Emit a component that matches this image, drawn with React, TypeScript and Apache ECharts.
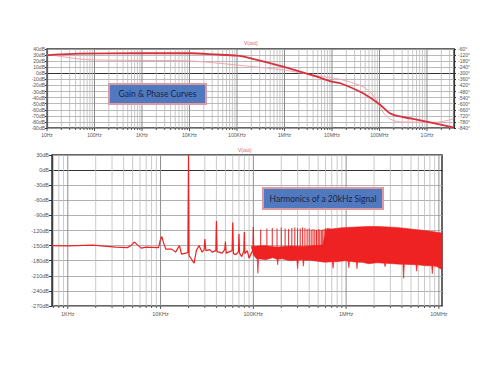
import React, { useEffect, useRef } from "react";
import * as echarts from "echarts";

// ---------- Top chart: gain & phase (Bode) ----------
const bodeTickFreqs = [10, 100, 1e3, 1e4, 1e5, 1e6, 1e7, 1e8, 1e9];
const bodeTickLabels = ["10Hz", "100Hz", "1KHz", "10KHz", "100KHz", "1MHz", "10MHz", "100MHz", "1GHz"];
const bodeFreqRange = [10, 3.7e9];
const gainFreqs = [10, 18.6, 49, 1000, 11000, 35000, 100000, 186000, 930000, 4.8e6, 1e7, 1.5e7, 4.5e7, 1e8, 1.66e8, 2.34e8, 5.1e8, 1.15e9, 3.55e9];
const gainDb = [29.6, 31, 32.5, 33, 33, 31, 29, 25, 11, -5.6, -13.8, -16.4, -32.9, -51, -65.8, -70.2, -75.1, -80.6, -88.8];
const phaseFreqs = [10, 49, 102, 1000, 10200, 1e5, 9.3e5, 4.8e6, 1.48e7, 4.47e7, 7.24e7, 9.3e7, 1.17e8, 1.66e8, 2.7e8, 1.62e9, 3.55e9];
const phaseDeg = [-114, -159, -168, -173, -178, -218, -267, -323, -359, -432, -514, -593, -682, -751, -780, -783, -751];
const gainAxis = { min: -90, max: 40, step: 10 };
const phaseAxis = { min: -840, max: -60, step: 60 };

// ---------- Bottom chart: harmonics spectrum ----------
const specTickFreqs = [1e3, 1e4, 1e5, 1e6, 1e7];
const specTickLabels = ["1KHz", "10KHz", "100KHz", "1MHz", "10MHz"];
const specFreqRange = [676, 1.08e7];
const traceFreqs = [676, 1000, 1850, 3300, 4400, 4800, 5200, 5600, 6200, 7000, 9500, 9900, 10300, 10800, 11400, 13200, 14500, 16000, 16800, 19700, 20000, 20300, 23000, 24300, 26000, 28000, 29500, 30000, 30800, 34000, 36000, 39400, 40000, 40700, 46000, 49200, 50000, 51000, 59000, 60000, 61000, 65000, 69000, 70000, 71000, 75000, 79000, 80000, 81000, 86000, 90000, 95000, 99000, 100000, 101000];
const traceDb = [-150, -150.5, -149, -153, -154, -150, -143, -148, -155, -153, -154, -140, -132, -145, -157, -157, -163, -150, -167, -164, 30, -170, -185, -160, -150, -163, -158, -137, -160, -158, -163, -160, -101, -162, -165, -158, -142, -165, -160, -104, -166, -168, -162, -127, -165, -172, -160, -123, -166, -160, -175, -165, -160, -113, -165];
const harmonicFreqs = [120e3, 140e3, 160e3, 180e3, 200e3, 220e3, 240e3, 260e3, 280e3, 300e3, 320e3, 340e3, 360e3, 380e3, 400e3, 420e3, 440e3, 460e3, 480e3, 500e3, 520e3, 540e3, 560e3, 580e3, 600e3];
const harmonicDb = [-118, -116, -115, -116, -114, -116, -117, -115, -114, -115, -116, -114, -115, -117, -116, -118, -117, -118, -119, -117, -118, -119, -118, -117, -116];
const harmonicBaseDb = -155;
const bandTopFreqs = [95e3, 130e3, 180e3, 250e3, 350e3, 450e3, 560e3, 590e3, 620e3, 700e3, 850e3, 1e6, 1.3e6, 1.7e6, 2.2e6, 2.8e6, 3.5e6, 4.5e6, 5.5e6, 7e6, 8.5e6, 1.08e7];
const bandTopDb = [-152, -150, -153, -151, -152, -150, -149, -130, -116, -117, -115, -114, -113, -112, -112, -113, -114, -116, -118, -120, -122, -125];
const bandLowFreqs = [100e3, 108e3, 110e3, 112e3, 114e3, 136e3, 162e3, 180e3, 183e3, 186e3, 204e3, 246e3, 294e3, 300e3, 306e3, 340e3, 346e3, 352e3, 401e3, 488e3, 594e3, 710e3, 723e3, 736e3, 797e3, 975e3, 1.05e6, 1.07e6, 1.09e6, 1.18e6, 1.29e6, 1.31e6, 1.33e6, 1.48e6, 1.75e6, 2.15e6, 2.58e6, 2.63e6, 2.68e6, 3.16e6, 3.79e6, 4.1e6, 4.17e6, 4.24e6, 5.5e6, 5.66e6, 5.76e6, 5.86e6, 7.28e6, 8.35e6, 8.5e6, 8.65e6, 9.6e6, 1.08e7];
const bandLowDb = [-168, -176, -176, -205, -176, -178, -174, -177, -188, -177, -176, -180, -179, -196, -179, -178, -191, -179, -179, -181, -183, -182, -195, -182, -182, -180, -181, -194, -181, -182, -183, -196, -183, -183, -186, -184, -185, -192, -185, -186, -187, -187, -215, -187, -188, -188, -201, -188, -190, -190, -206, -190, -192, -198];
const specAxis = { min: -270, max: 30, step: 30 };

const FONT = "Liberation Sans";
const lg = (f: number) => Math.log10(f);

function gridLineData(range: number[]) {
  const lo = lg(range[0]);
  const hi = lg(range[1]);
  const out: number[][] = [];
  for (let d = Math.floor(lo); d <= Math.ceil(hi); d++) {
    for (let k = 1; k <= 9; k++) {
      const v = lg(k * Math.pow(10, d));
      if (v >= lo - 1e-9 && v <= hi + 1e-9) out.push([v, k === 1 ? 1 : 0]);
    }
  }
  return out;
}

function gridLineSeries(xi: number, yi: number, range: number[], yMin: number, yMax: number, minorColor: string, majorColor: string) {
  return {
    type: "custom",
    xAxisIndex: xi,
    yAxisIndex: yi,
    silent: true,
    z: 1,
    encode: { x: 0 },
    data: gridLineData(range),
    renderItem: (params: any, api: any) => {
      const x = api.value(0);
      const major = api.value(1) === 1;
      const top = api.coord([x, yMax]);
      const bot = api.coord([x, yMin]);
      return {
        type: "group",
        children: [
          { type: "line", shape: { x1: top[0], y1: top[1], x2: bot[0], y2: bot[1] }, style: { stroke: major ? majorColor : minorColor, lineWidth: major ? 1 : 0.8 } },
          { type: "line", shape: { x1: bot[0], y1: bot[1], x2: bot[0], y2: bot[1] + (major ? 3 : 2) }, style: { stroke: "#333", lineWidth: 0.8 } },
        ],
      };
    },
  };
}

function labelFormatter(freqs: number[], labels: string[]) {
  return (v: number) => {
    const i = freqs.findIndex((f) => Math.abs(lg(f) - v) < 1e-6);
    return i >= 0 ? labels[i] : "";
  };
}

export default function App() {
  const ref = useRef<HTMLDivElement>(null);
  useEffect(() => {
    if (!ref.current) return;
    const chart = echarts.init(ref.current, undefined, { renderer: "svg" });
    const axisLine = { show: true, lineStyle: { color: "#333", width: 1.2 } };
    const option: any = {
      animation: false,
      backgroundColor: "#ffffff",
      grid: [
        { left: 47, right: 46, top: 49, height: 79, show: true, borderColor: "#333", borderWidth: 1.3, backgroundColor: "transparent" },
        { left: 52, right: 58, top: 155, height: 151, show: true, borderColor: "#333", borderWidth: 1.5, backgroundColor: "transparent" },
      ],
      xAxis: [
        {
          gridIndex: 0, type: "value", min: lg(bodeFreqRange[0]), max: lg(bodeFreqRange[1]),
          axisLine, axisTick: { show: false }, splitLine: { show: false },
          axisLabel: { customValues: bodeTickFreqs.map(lg), formatter: labelFormatter(bodeTickFreqs, bodeTickLabels), fontSize: 5, color: "#555", fontFamily: FONT, margin: 4, showMinLabel: true, showMaxLabel: true },
        },
        {
          gridIndex: 1, type: "value", min: lg(specFreqRange[0]), max: lg(specFreqRange[1]),
          axisLine, axisTick: { show: false }, splitLine: { show: false },
          axisLabel: { customValues: specTickFreqs.map(lg), formatter: labelFormatter(specTickFreqs, specTickLabels), fontSize: 5.5, color: "#555", fontFamily: FONT, margin: 5, showMinLabel: true, showMaxLabel: true },
        },
      ],
      yAxis: [
        {
          gridIndex: 0, type: "value", position: "left", min: gainAxis.min, max: gainAxis.max, interval: gainAxis.step,
          axisLine, axisTick: { show: true, length: 2, lineStyle: { color: "#333" } },
          splitLine: { show: true, lineStyle: { color: "#a8a8a8", width: 0.8 } },
          axisLabel: { formatter: "{value}dB", fontSize: 5, color: "#555", fontFamily: FONT, margin: 2 },
        },
        {
          gridIndex: 0, type: "value", position: "right", min: phaseAxis.min, max: phaseAxis.max, interval: phaseAxis.step,
          axisLine, axisTick: { show: true, length: 2, lineStyle: { color: "#333" } },
          splitLine: { show: false },
          axisLabel: { formatter: "{value}°", fontSize: 5, color: "#555", fontFamily: FONT, margin: 4 },
        },
        {
          gridIndex: 1, type: "value", position: "left", min: specAxis.min, max: specAxis.max, interval: specAxis.step,
          axisLine, axisTick: { show: true, length: 3, lineStyle: { color: "#333" } },
          splitLine: { show: true, lineStyle: { color: "#a8a8a8", width: 0.9 } },
          axisLabel: { formatter: "{value}dB", fontSize: 5.5, color: "#555", fontFamily: FONT, margin: 3 },
        },
      ],
      series: [
        gridLineSeries(0, 0, bodeFreqRange, gainAxis.min, gainAxis.max, "#b8b8b8", "#8a8a8a"),
        {
          type: "line", xAxisIndex: 0, yAxisIndex: 1, showSymbol: false, smooth: 0.25, z: 3,
          lineStyle: { color: "#f0a6ae", width: 1 },
          data: phaseFreqs.map((f, i) => [lg(f), phaseDeg[i]]),
        },
        {
          type: "line", xAxisIndex: 0, yAxisIndex: 0, showSymbol: false, smooth: 0.25, z: 4,
          lineStyle: { color: "#d8303c", width: 1.8 },
          data: gainFreqs.map((f, i) => [lg(f), gainDb[i]]),
        },
        gridLineSeries(1, 2, specFreqRange, specAxis.min, specAxis.max, "#bdbdbd", "#8f8f8f"),
        {
          type: "custom", xAxisIndex: 1, yAxisIndex: 2, silent: true, z: 3,
          data: [[lg(bandTopFreqs[0]), bandTopDb[0]]],
          renderItem: (params: any, api: any) => {
            const pts: number[][] = [];
            bandTopFreqs.forEach((f, i) => pts.push(api.coord([lg(f), bandTopDb[i]])));
            for (let i = bandLowFreqs.length - 1; i >= 0; i--) pts.push(api.coord([lg(bandLowFreqs[i]), bandLowDb[i]]));
            return { type: "polygon", shape: { points: pts }, style: { fill: "#ee2222", stroke: "#ee2222", lineWidth: 0.6 } };
          },
        },
        {
          type: "custom", xAxisIndex: 1, yAxisIndex: 2, silent: true, z: 3,
          data: harmonicFreqs.map((f, i) => [lg(f), harmonicDb[i]]),
          renderItem: (params: any, api: any) => {
            const x = api.value(0);
            const p1 = api.coord([x, harmonicBaseDb]);
            const p2 = api.coord([x, api.value(1)]);
            return { type: "line", shape: { x1: p1[0], y1: p1[1], x2: p2[0], y2: p2[1] }, style: { stroke: "#ee2222", lineWidth: 1 } };
          },
        },
        {
          type: "line", xAxisIndex: 1, yAxisIndex: 2, showSymbol: false, z: 4,
          lineStyle: { color: "#ee2222", width: 1.2 },
          data: traceFreqs.map((f, i) => [lg(f), traceDb[i]]),
        },
      ],
      graphic: [
        { type: "text", z: 100, left: 244, top: 40, style: { text: "V(out)", fontSize: 5, fill: "#e05a5a", fontFamily: FONT } },
        { type: "text", z: 100, left: 238, top: 147, style: { text: "V(out)", fontSize: 5, fill: "#e05a5a", fontFamily: FONT } },
        {
          type: "group", left: 108, top: 83, z: 100,
          children: [
            { type: "rect", z: 100, shape: { x: 0, y: 0, width: 97, height: 20 }, style: { fill: "#5079c0", stroke: "#d99aa4", lineWidth: 2 } },
            { type: "text", z: 101, x: 48.5, y: 10, style: { text: "Gain & Phase Curves", fontSize: 8.5, fill: "#1a2546", fontFamily: "Lato", align: "center", verticalAlign: "middle" } },
          ],
        },
        {
          type: "group", left: 262, top: 187, z: 100,
          children: [
            { type: "rect", z: 100, shape: { x: 0, y: 0, width: 120, height: 21 }, style: { fill: "#5079c0", stroke: "#d99aa4", lineWidth: 2 } },
            { type: "text", z: 101, x: 60, y: 10.5, style: { text: "Harmonics of a 20kHz Signal", fontSize: 8.5, fill: "#1a2546", fontFamily: "Lato", align: "center", verticalAlign: "middle" } },
          ],
        },
      ],
    };
    chart.setOption(option);
    return () => chart.dispose();
  }, []);
  return (
    <div
      ref={ref}
      style={{ position: "fixed", left: 0, top: 0, width: 500, height: 375, background: "#fff" }}
    />
  );
}
